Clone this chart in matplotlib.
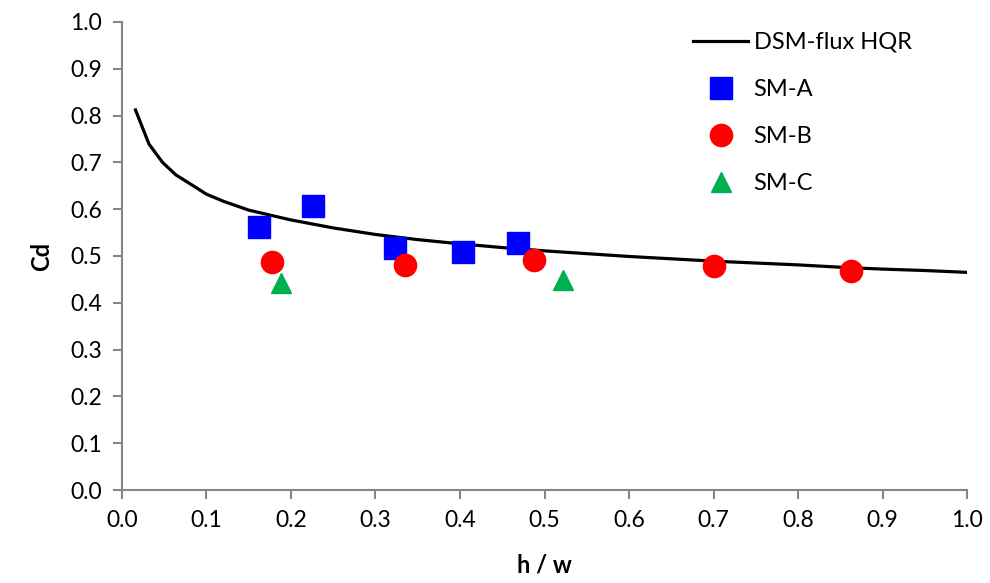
import matplotlib.pyplot as plt

plt.rcParams['font.family'] = ['Lato', 'DejaVu Sans']

# DSM-flux HQR curve
curve_x = [0.016, 0.032, 0.048, 0.064, 0.08, 0.10, 0.12, 0.15, 0.20, 0.25, 0.30,
           0.35, 0.40, 0.45, 0.50, 0.55, 0.60, 0.65, 0.70, 0.75, 0.80, 0.85,
           0.90, 0.95, 1.00]
curve_cd = [0.812, 0.739, 0.700, 0.673, 0.655, 0.632, 0.617, 0.598, 0.577, 0.560, 0.546,
            0.535, 0.526, 0.518, 0.511, 0.505, 0.499, 0.494, 0.489, 0.485, 0.481, 0.476,
            0.472, 0.469, 0.465]

sma_x = [0.162, 0.226, 0.323, 0.404, 0.469]
sma_cd = [0.563, 0.607, 0.518, 0.509, 0.528]

smb_x = [0.178, 0.335, 0.487, 0.700, 0.863]
smb_cd = [0.487, 0.481, 0.491, 0.479, 0.468]

smc_x = [0.188, 0.522]
smc_cd = [0.443, 0.449]

ticks = [0.0, 0.1, 0.2, 0.3, 0.4, 0.5, 0.6, 0.7, 0.8, 0.9, 1.0]
tick_labels = ['0.0', '0.1', '0.2', '0.3', '0.4', '0.5', '0.6', '0.7', '0.8', '0.9', '1.0']

fig = plt.figure(figsize=(9.9, 5.83), dpi=100)
ax = fig.add_axes([0.1232, 0.1595, 0.8536, 0.8028])

ax.plot(curve_x, curve_cd, color='black', lw=2.3, label='DSM-flux HQR', zorder=2)
ax.plot(sma_x, sma_cd, ls='none', marker='s', ms=15.5, color='#0000FF', label='SM-A', zorder=3)
ax.plot(smb_x, smb_cd, ls='none', marker='o', ms=16, color='#FF0000', label='SM-B', zorder=3)
ax.plot(smc_x, smc_cd, ls='none', marker='^', ms=15, color='#00B050', label='SM-C', zorder=3)

ax.set_xlim(0, 1)
ax.set_ylim(0, 1)
ax.set_xticks(ticks)
ax.set_xticklabels(tick_labels)
ax.set_yticks(ticks)
ax.set_yticklabels(tick_labels)

for s in ['top', 'right']:
    ax.spines[s].set_visible(False)
for s in ['left', 'bottom']:
    ax.spines[s].set_color('#868686')
    ax.spines[s].set_linewidth(1.5)
ax.tick_params(axis='both', direction='out', length=6.5, width=1.5, color='#868686',
               labelsize=16.5, pad=8)

ax.set_xlabel('h / w', fontsize=17, fontweight='bold', labelpad=16)
ax.set_ylabel('Cd', fontsize=17, fontweight='bold', labelpad=12)

ax.legend(loc='upper left', bbox_to_anchor=(0.651, 1.024), frameon=False, fontsize=17,
          handlelength=2.3, handletextpad=0.25, labelspacing=1.1, numpoints=1)

fig.savefig('out.png', dpi=100)
